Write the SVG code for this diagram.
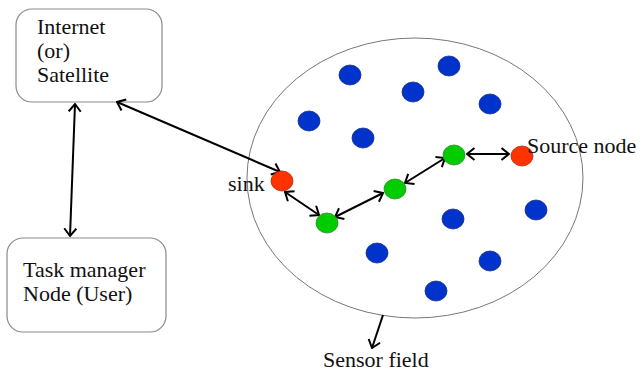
<svg xmlns="http://www.w3.org/2000/svg" width="640" height="376" viewBox="0 0 640 376">
<style>
.box{fill:#fff;stroke:#8a8a8a;stroke-width:1.2}
.t{font-family:"Liberation Serif","Times New Roman",serif;font-size:22px;fill:#111}
.c{fill:none;stroke:#000;stroke-width:2}
.blue{fill:#0033cc;stroke:#1a2e80;stroke-width:0.8}
.green{fill:#00cc00;stroke:#2f8a2f;stroke-width:0.8}
.red{fill:#ff3300;stroke:#b03010;stroke-width:0.8}
</style>
<defs>
<marker id="ah" viewBox="0 0 10 14" refX="8.5" refY="7" markerWidth="10" markerHeight="14" markerUnits="userSpaceOnUse" orient="auto-start-reverse">
<path d="M1,1 L8.5,7 L1,13" fill="none" stroke="#000" stroke-width="2"/>
</marker>
</defs>
<rect width="640" height="376" fill="#fff"/>
<g id="field">
<ellipse cx="415" cy="178" rx="168" ry="140" fill="none" stroke="#777" stroke-width="1"/>
</g>
<g id="internet">
<rect class="box" x="16" y="9" width="146" height="93" rx="16"/>
<text class="t" x="37" y="34">Internet</text>
<text class="t" x="37" y="58">(or)</text>
<text class="t" x="37" y="82">Satellite</text>
</g>
<g id="taskmanager">
<rect class="box" x="7" y="238" width="159" height="94" rx="16"/>
<text class="t" x="23" y="277">Task manager</text>
<text class="t" x="23" y="301">Node (User)</text>
</g>
<g id="connectors">
<line class="c" x1="75" y1="104" x2="70" y2="236" marker-start="url(#ah)" marker-end="url(#ah)"/>
<line class="c" x1="117" y1="102" x2="280" y2="172" marker-start="url(#ah)" marker-end="url(#ah)"/>
<line class="c" x1="285" y1="192" x2="319" y2="215" marker-start="url(#ah)" marker-end="url(#ah)"/>
<line class="c" x1="335" y1="217" x2="383" y2="193" marker-start="url(#ah)" marker-end="url(#ah)"/>
<line class="c" x1="405" y1="183" x2="445" y2="158" marker-start="url(#ah)" marker-end="url(#ah)"/>
<line class="c" x1="467" y1="154" x2="509" y2="154" marker-start="url(#ah)" marker-end="url(#ah)"/>
<line class="c" x1="383" y1="315" x2="372" y2="348" marker-end="url(#ah)"/>
</g>
<g id="blue-nodes">
<ellipse class="blue" cx="350" cy="75" rx="11" ry="10"/>
<ellipse class="blue" cx="449" cy="66" rx="11" ry="10"/>
<ellipse class="blue" cx="413" cy="92" rx="11" ry="10"/>
<ellipse class="blue" cx="490" cy="104" rx="11" ry="10"/>
<ellipse class="blue" cx="309" cy="121" rx="11" ry="10"/>
<ellipse class="blue" cx="363" cy="138" rx="11" ry="10"/>
<ellipse class="blue" cx="453" cy="219" rx="11" ry="10"/>
<ellipse class="blue" cx="536" cy="210" rx="11" ry="10"/>
<ellipse class="blue" cx="377" cy="253" rx="11" ry="10"/>
<ellipse class="blue" cx="490" cy="261" rx="11" ry="10"/>
<ellipse class="blue" cx="436" cy="291" rx="11" ry="10"/>
</g>
<g id="relay-nodes">
<ellipse class="green" cx="327" cy="223" rx="11" ry="10"/>
<ellipse class="green" cx="395" cy="189" rx="11" ry="10"/>
<ellipse class="green" cx="454" cy="155" rx="11" ry="10"/>
</g>
<g id="sink">
<ellipse class="red" cx="282" cy="181" rx="11" ry="10"/>
<text class="t" x="228" y="191">sink</text>
</g>
<g id="source">
<ellipse class="red" cx="522" cy="156" rx="11" ry="10"/>
<text class="t" x="527" y="153">Source node</text>
</g>
<g id="sensor-label">
<text class="t" x="323" y="367">Sensor field</text>
</g>
</svg>
